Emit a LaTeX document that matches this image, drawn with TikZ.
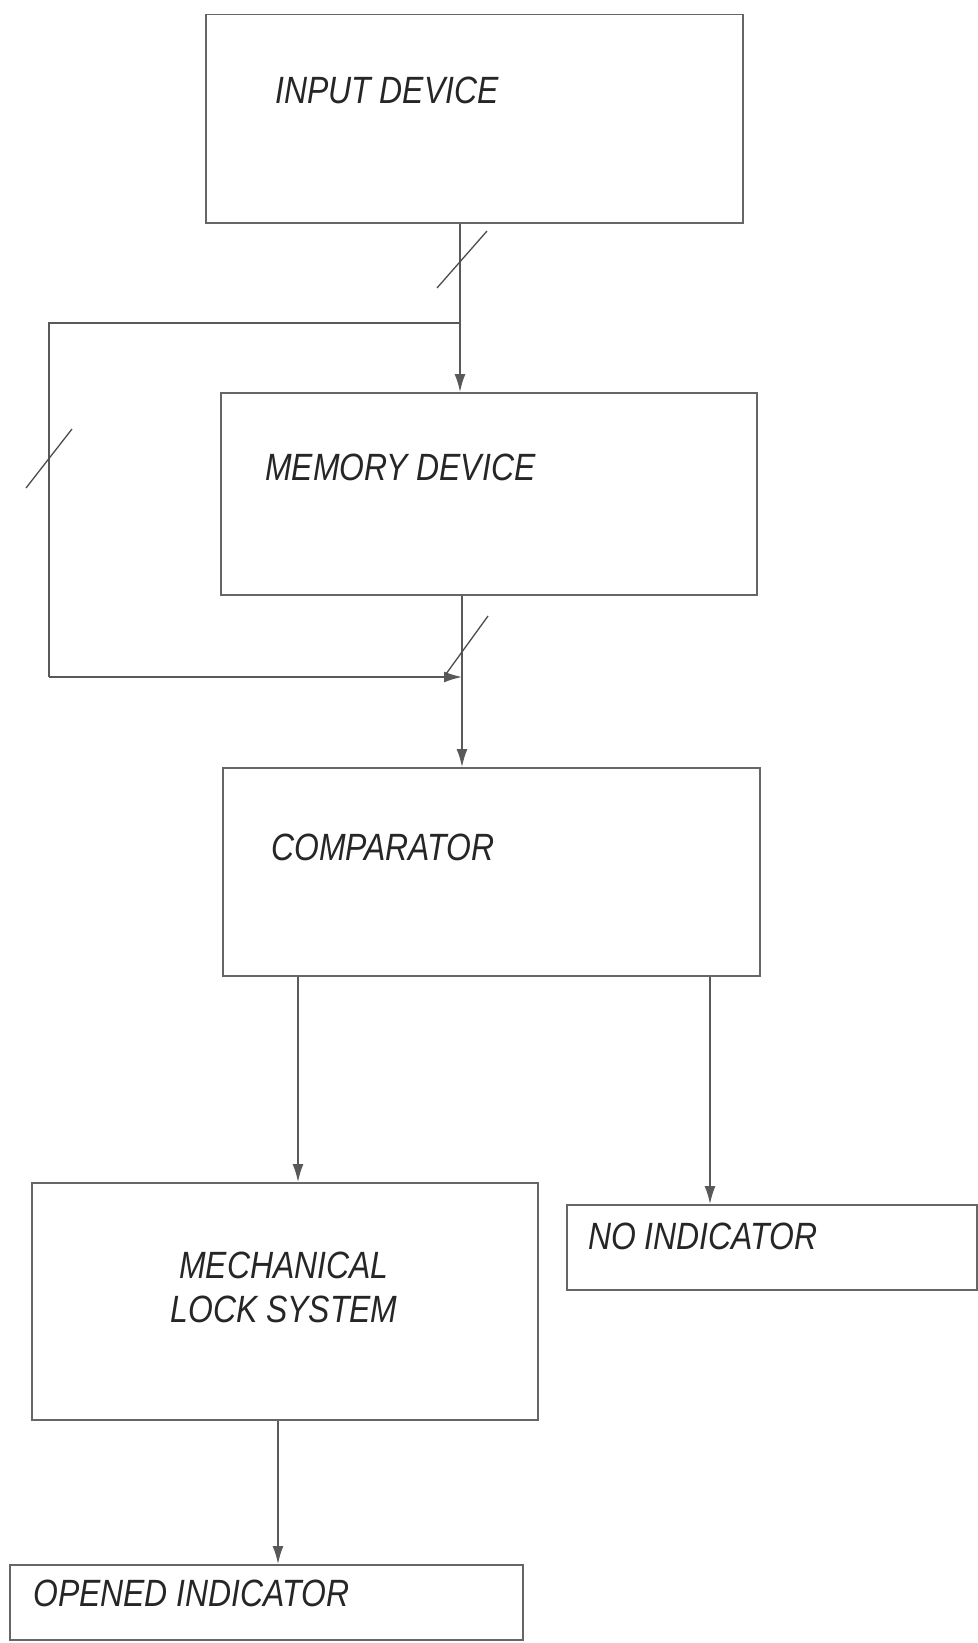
\documentclass[tikz,border=0pt]{standalone}
\usepackage{fontspec}
\newfontfamily\labfont{Liberation Sans}[FakeStretch=0.84]
\usetikzlibrary{arrows.meta}
\begin{document}
\begin{tikzpicture}[x=1pt,y=-1pt,
  box/.style={draw=black!60,line width=1.5pt,rectangle,inner sep=0pt,anchor=north west},
  lab/.style={font=\labfont\itshape\fontsize{38}{45}\selectfont,text=black!85,inner sep=0pt},
  wire/.style={draw=black!65,line width=1.5pt},
  arr/.style={wire,-{Latex[length=18pt,width=11pt]}},
  tick/.style={draw=black!70,line width=1.3pt}]
\useasboundingbox (0,0) rectangle (977,1643);
% boxes
\node[box,minimum width=537pt,minimum height=208pt] (input) at (205,14) {};
\node[box,minimum width=536pt,minimum height=202pt] (memory) at (220,392) {};
\node[box,minimum width=537pt,minimum height=208pt] (comp) at (222,767) {};
\node[box,minimum width=506pt,minimum height=237pt] (mech) at (31,1182) {};
\node[box,minimum width=513pt,minimum height=75pt] (opened) at (9,1564) {};
\node[box,minimum width=410pt,minimum height=85pt] (noind) at (566,1204) {};
% labels
\node[lab,anchor=west] (inputtxt) at (275,90) {INPUT DEVICE};
\node[lab,anchor=west] (memorytxt) at (265,467) {MEMORY DEVICE};
\node[lab,anchor=west] (comptxt) at (271,847) {COMPARATOR};
\node[lab,align=center,anchor=center] (mechtxt) at (284,1287) {MECHANICAL\\[-1pt]LOCK SYSTEM};
\node[lab,anchor=west] (openedtxt) at (33,1593) {OPENED INDICATOR};
\node[lab,anchor=west] (noindtxt) at (588,1236) {NO INDICATOR};
% bus coordinates
\coordinate (busa) at (460,323);
\coordinate (busb) at (462,677);
\coordinate (fbl) at (49,323);
\coordinate (cl) at (298,975);
\coordinate (cr) at (710,975);
\coordinate (ml) at (278,1419);
% connectors
\draw[arr] (input.south -| busa) -- (memory.north -| busa);
\draw[wire] (busa) -- (fbl) -- (fbl |- busb);
\draw[arr] (fbl |- busb) -- (busb);
\draw[arr] (memory.south -| busb) -- (comp.north -| busb);
\draw[arr] (comp.south -| cl) -- (mech.north -| cl);
\draw[arr] (comp.south -| cr) -- (noind.north -| cr);
\draw[arr] (mech.south -| ml) -- (opened.north -| ml);
% bus slash marks
\draw[tick] (437,288) -- (487,231);
\draw[tick] (26,488) -- (72,429);
\draw[tick] (446,674) -- (488,616);
\end{tikzpicture}
\end{document}
